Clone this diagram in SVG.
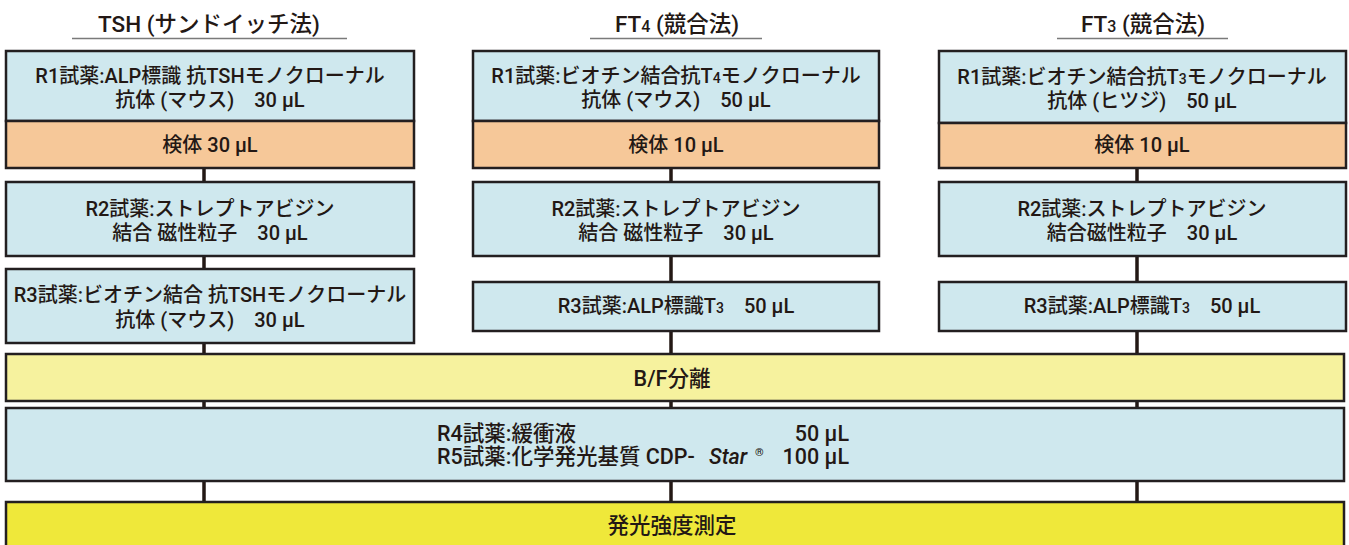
<svg xmlns="http://www.w3.org/2000/svg" width="1349" height="545" viewBox="0 0 1349 545">
<style>
.t{font-family:"Roboto","Noto Sans CJK JP",sans-serif;font-weight:500;font-size:20px;fill:#231815;text-anchor:middle}
.k{font-size:21.5px}
.h{font-family:"Roboto","Noto Sans CJK JP",sans-serif;font-weight:500;font-size:22.5px;fill:#231815;text-anchor:middle}
.l{text-anchor:start}
.r{text-anchor:end}
.b{fill:#cfe8ee;stroke:#231f20;stroke-width:2.5}
.s{fill:#f6c899;stroke:#231f20;stroke-width:2.5}
.p{fill:#f6f29e;stroke:#231f20;stroke-width:2.5}
.y{fill:#efe83a;stroke:#231f20;stroke-width:2.5}
.c{stroke:#231815;stroke-width:3.5;fill:none}
.u{stroke:#7a7a7a;stroke-width:1.5}
</style>
<rect width="1349" height="545" fill="#ffffff"/>
<g id="connectors">
<path class="c" d="M204 168V182M204 256V269M204 343V354M204 401V408M204 481V502"/>
<path class="c" d="M671 168V182M671 256V282M671 331V354M671 401V408M671 481V502"/>
<path class="c" d="M1137 168V182M1137 256V282M1137 331V354M1137 401V408M1137 481V502"/>
</g>
<g id="titles">
<text class="h" x="209" y="32">TSH (サンドイッチ法)</text>
<line class="u" x1="72" y1="38.5" x2="347" y2="38.5"/>
<text class="h" x="677" y="32">FT<tspan font-size="16">4</tspan> (競合法)</text>
<line class="u" x1="590" y1="38.5" x2="762" y2="38.5"/>
<text class="h" x="1143" y="32">FT<tspan font-size="16">3</tspan> (競合法)</text>
<line class="u" x1="1057" y1="38.5" x2="1228" y2="38.5"/>
</g>
<g id="tsh-r1"><rect class="b" x="6" y="51" width="408" height="70"/>
<text class="t" x="210" y="83">R1試薬:ALP標識 抗TSHモノクローナル</text>
<text class="t" x="210" y="107">抗体 (マウス)　30 μL</text></g>
<g id="tsh-sample"><rect class="s" x="6" y="121" width="408" height="47"/>
<text class="t" x="210" y="152">検体 30 μL</text></g>
<g id="tsh-r2"><rect class="b" x="6" y="182" width="408" height="74"/>
<text class="t" x="210" y="216">R2試薬:ストレプトアビジン</text>
<text class="t" x="210" y="240">結合 磁性粒子　30 μL</text></g>
<g id="tsh-r3"><rect class="b" x="6" y="269" width="408" height="74"/>
<text class="t" x="210" y="302">R3試薬:ビオチン結合 抗TSHモノクローナル</text>
<text class="t" x="210" y="327">抗体 (マウス)　30 μL</text></g>

<g id="ft4-r1"><rect class="b" x="473" y="51" width="406" height="70"/>
<text class="t" x="676" y="83">R1試薬:ビオチン結合抗T<tspan font-size="14">4</tspan>モノクローナル</text>
<text class="t" x="676" y="107">抗体 (マウス)　50 μL</text></g>
<g id="ft4-sample"><rect class="s" x="473" y="121" width="406" height="47"/>
<text class="t" x="676" y="152">検体 10 μL</text></g>
<g id="ft4-r2"><rect class="b" x="473" y="182" width="406" height="74"/>
<text class="t" x="676" y="216">R2試薬:ストレプトアビジン</text>
<text class="t" x="676" y="240">結合 磁性粒子　30 μL</text></g>
<g id="ft4-r3"><rect class="b" x="473" y="282" width="406" height="49"/>
<text class="t" x="676" y="313">R3試薬:ALP標識T<tspan font-size="14">3</tspan>　50 μL</text></g>

<g id="ft3-r1"><rect class="b" x="939" y="51" width="407" height="72"/>
<text class="t" x="1142" y="84">R1試薬:ビオチン結合抗T<tspan font-size="14">3</tspan>モノクローナル</text>
<text class="t" x="1142" y="108">抗体 (ヒツジ)　50 μL</text></g>
<g id="ft3-sample"><rect class="s" x="939" y="123" width="407" height="45"/>
<text class="t" x="1142" y="152">検体 10 μL</text></g>
<g id="ft3-r2"><rect class="b" x="939" y="182" width="407" height="74"/>
<text class="t" x="1142" y="216">R2試薬:ストレプトアビジン</text>
<text class="t" x="1142" y="240">結合磁性粒子　30 μL</text></g>
<g id="ft3-r3"><rect class="b" x="939" y="282" width="407" height="49"/>
<text class="t" x="1142" y="313">R3試薬:ALP標識T<tspan font-size="14">3</tspan>　50 μL</text></g>

<g id="bf"><rect class="p" x="6" y="354" width="1338" height="47"/>
<text class="t k" x="672" y="386">B/F分離</text></g>
<g id="r4r5"><rect class="b" x="6" y="408" width="1338" height="73"/>
<text class="t k l" x="437" y="441">R4試薬:緩衝液</text>
<text class="t k r" x="849" y="441">50 μL</text>
<text class="t k l" x="437" y="464">R5試薬:化学発光基質 CDP-<tspan x="709" font-style="italic">Star</tspan><tspan x="755" font-size="11" dy="-8">®</tspan></text>
<text class="t k r" x="849" y="464">100 μL</text></g>
<g id="measure"><rect class="y" x="6" y="502" width="1338" height="50"/>
<text class="t k" x="672" y="533">発光強度測定</text></g>
</svg>
